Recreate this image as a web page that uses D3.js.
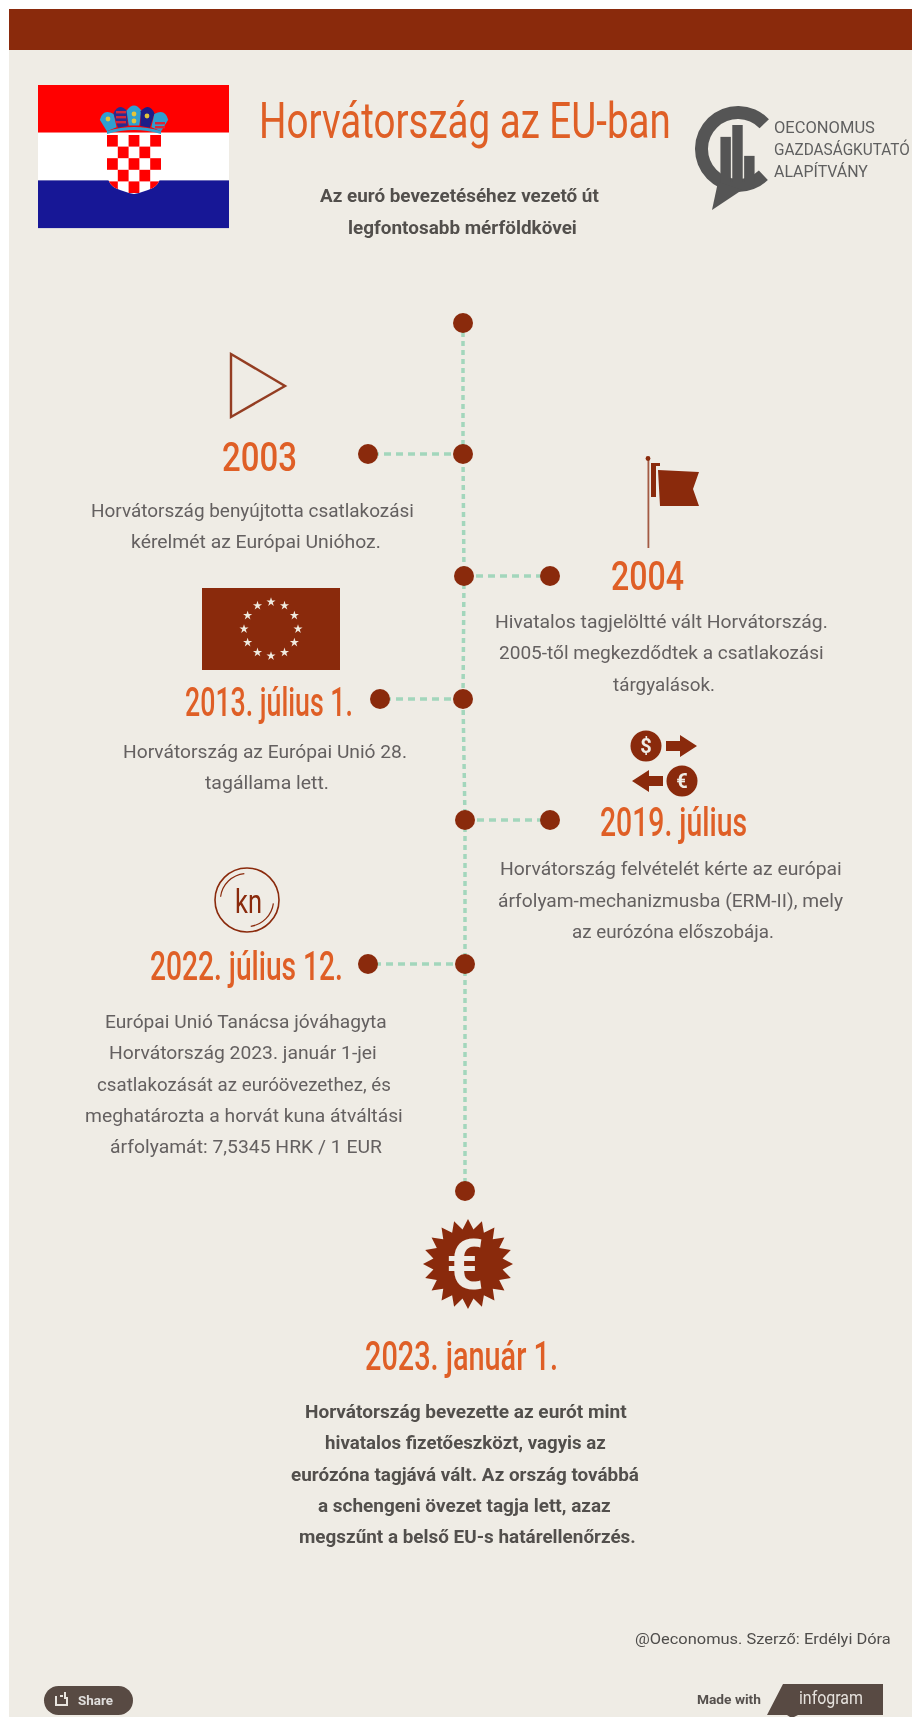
<!DOCTYPE html>
<html><head><meta charset="utf-8">
<script src="https://cdn.jsdelivr.net/npm/d3@7/dist/d3.min.js"></script>
<style>
html,body{margin:0;padding:0;background:#fff;overflow:hidden}
svg{display:block;filter:blur(.5px)}
</style></head><body><div id="c"></div>
<script>
// ---- content ----
const nodeIds = ["start","2003","2004","2013","2019","2022","end"];
const branchIds = ["2003","2004","2013","2019","2022"];
const headings = ["2003","2004","2013. július 1.","2019. július","2022. július 12.","2023. január 1."];
const bodyLines = [
 "Horvátország benyújtotta csatlakozási","kérelmét az Európai Unióhoz.",
 "Hivatalos tagjelöltté vált Horvátország.","2005-től megkezdődtek a csatlakozási","tárgyalások.",
 "Horvátország az Európai Unió 28.","tagállama lett.",
 "Horvátország felvételét kérte az európai","árfolyam-mechanizmusba (ERM-II), mely","az eurózóna előszobája.",
 "Európai Unió Tanácsa jóváhagyta","Horvátország 2023. január 1-jei","csatlakozását az euróövezethez, és","meghatározta a horvát kuna átváltási","árfolyamát: 7,5345 HRK / 1 EUR"];
const finalLines = ["Horvátország bevezette az eurót mint","hivatalos fizetőeszközt, vagyis az","eurózóna tagjává vált. Az ország továbbá","a schengeni övezet tagja lett, azaz","megszűnt a belső EU-s határellenőrzés."];
const subtitleLines = ["Az euró bevezetéséhez vezető út","legfontosabb mérföldkövei"];
const logoLines = ["OECONOMUS","GAZDASÁGKUTATÓ","ALAPÍTVÁNY"];
const logoBars = [38,48,22];
const title = "Horvátország az EU-ban";
const source = "@Oeconomus. Szerző: Erdélyi Dóra";

// ---- layout ----
const W=912,H=1717, BROWN="#8a2a0c", ORANGE="#df5f26", BG="#efece5", GREEN="#a3d6bc", GREY="#646060";
const nodeY = d3.scaleOrdinal().domain(nodeIds).range([323,454,576,699,820,964,1191]);
const nodeX = d3.scaleOrdinal().domain(nodeIds).range([463,463,464,463,465,465,465]);
const branchEnd = d3.scaleOrdinal().domain(branchIds).range([368,550,380,550,368]);
const headBox = [[222,297,471],[611,684,590],[185,353,716],[600,747,836],[150,343,980],[365,558,1370]];
const bodyBox = [[91,414,517],[131,381,548],[495,828,628],[499,824,659],[613,715,691],[123,407,758],[205,329,789],
 [500,842,875],[498,843,907],[572,774,938],[105,387,1028],[109,377,1059],[97,391,1091],[85,403,1122],[110,382,1153]];
const finalBox = [[305,627,1418],[325,606,1449],[291,639,1481],[318,611,1512],[299,636,1543]];
const subBox = [[320,599,202],[348,577,234]];

const svg = d3.select("#c").append("svg").attr("width",W).attr("height",H).attr("viewBox",[0,0,W,H]);
svg.append("rect").attr("width",W).attr("height",H).attr("fill","#fff");
svg.append("rect").attr("x",9).attr("y",9).attr("width",W-9).attr("height",H-9).attr("fill",BG);
svg.append("rect").attr("x",9).attr("y",9).attr("width",W-9).attr("height",41).attr("fill",BROWN);

// each text line is squeezed horizontally to the width it occupies in the reference
function texts(cls,data,boxes,opt){
  svg.append("g").attr("class",cls).selectAll("text").data(data).join("text")
   .attr("font-family",opt.font||"Roboto, sans-serif").attr("font-size",opt.size)
   .attr("font-weight",opt.weight||400).attr("fill",opt.fill).text(d=>d)
   .attr("transform",function(d,i){
     const b=boxes[i], sx=(b[1]-b[0])/this.getComputedTextLength();
     return `translate(${b[0]},${b[2]}) scale(${sx},1)`;
   });
}

// flag
const flag = svg.append("g");
flag.selectAll("rect").data(["#ff0000","#ffffff","#171796"]).join("rect")
 .attr("x",38).attr("width",191).attr("y",(d,i)=>85+i*47.7).attr("height",47.7).attr("fill",d=>d);
const shieldPath="M107 134H161V172Q161 186 148 190Q140 193 134 194Q128 193 120 190Q107 186 107 172Z";
const defs=svg.append("defs");
defs.append("clipPath").attr("id","sh").append("path").attr("d",shieldPath);
flag.append("path").attr("d",shieldPath).attr("fill","#fff");
const checks=[]; for(let r=0;r<6;r++)for(let c=0;c<5;c++) if((r+c)%2==0) checks.push([r,c]);
flag.append("g").attr("clip-path","url(#sh)").selectAll("rect").data(checks).join("rect")
 .attr("x",d=>107+d[1]*10.8).attr("y",d=>135+d[0]*11.6).attr("width",10.8).attr("height",11.6).attr("fill","#ff0000");
const crown=[[108,120,"#2f9fd0",7.5,10,-22],[121,116,"#2a2a8f",7,11,-10],[134,114.5,"#2f9fd0",7.5,11,0],[147,116,"#1d1d88",7,11,10],[160,120,"#2f9fd0",7.5,10,22]];
flag.selectAll("path.c").data(crown).join("path").attr("class","c")
 .attr("transform",d=>`translate(${d[0]},${d[1]}) rotate(${d[5]})`)
 .attr("d",d=>`M${-d[3]} ${-d[4]/3}Q0 ${-d[4]*1.3} ${d[3]} ${-d[4]/3}L${d[3]*.7} ${d[4]}L${-d[3]*.7} ${d[4]}Z`)
 .attr("fill",d=>d[2]);
flag.append("path").attr("d","M107 134Q134 126 161 134V131Q134 123 107 131Z").attr("fill","#2f9fd0");
flag.selectAll("rect.s").data([[116,111],[116,116],[116,121],[155,122],[155,126]]).join("rect").attr("class","s")
 .attr("x",d=>d[0]).attr("y",d=>d[1]).attr("width",10).attr("height",2.4).attr("fill","#d8263a");
flag.selectAll("circle").data([[134,114],[134,121],[147,116],[108,119]]).join("circle")
 .attr("cx",d=>d[0]).attr("cy",d=>d[1]).attr("r",2.4).attr("fill","#e3c53a");

// title
texts("title",[title],[[259,671,138]],{size:50,weight:400,fill:ORANGE});
texts("sub",subtitleLines,subBox,{size:19,weight:700,fill:"#524f4c"});

// logo
const logo=svg.append("g");
const arc=d3.arc().innerRadius(30).outerRadius(43);
const deg=Math.PI/180;
logo.append("path").attr("transform","translate(738,149)")
 .attr("d",arc({startAngle:136*deg,endAngle:406*deg})).attr("fill","#555");
logo.append("path").attr("d","M718 182L712 210L742 190Z").attr("fill","#555");
const bx=d3.scaleBand().domain(d3.range(logoBars.length)).range([719,756]).padding(.12);
const by=d3.scaleLinear().domain([0,48]).range([182,125]);
logo.selectAll("rect").data(logoBars).join("rect")
 .attr("x",(d,i)=>bx(i)).attr("width",bx.bandwidth()).attr("y",d=>by(d)).attr("height",d=>by(0)-by(d)).attr("fill","#555");
texts("logo",logoLines,[[774,875,133],[774,910,155],[774,868,177]],{size:16,weight:400,fill:"#5f5f5f"});

// timeline
const tl=svg.append("g");
const spine=d3.line().x(d=>nodeX(d)).y(d=>nodeY(d));
tl.append("path").attr("d",spine(nodeIds)).attr("fill","none").attr("stroke",GREEN).attr("stroke-width",3.5).attr("stroke-dasharray","5 4");
tl.selectAll("line").data(branchIds).join("line")
 .attr("x1",d=>nodeX(d)).attr("x2",d=>branchEnd(d)).attr("y1",d=>nodeY(d)).attr("y2",d=>nodeY(d))
 .attr("stroke",GREEN).attr("stroke-width",3.5).attr("stroke-dasharray","7 5");
tl.selectAll("circle.n").data(nodeIds).join("circle").attr("class","n")
 .attr("cx",d=>nodeX(d)).attr("cy",d=>nodeY(d)).attr("r",10).attr("fill",BROWN);
tl.selectAll("circle.b").data(branchIds).join("circle").attr("class","b")
 .attr("cx",d=>branchEnd(d)).attr("cy",d=>nodeY(d)).attr("r",10).attr("fill",BROWN);

texts("head",headings,headBox,{size:40,weight:500,fill:ORANGE});
texts("body",bodyLines,bodyBox,{size:18,weight:400,fill:GREY});
texts("final",finalLines,finalBox,{size:19,weight:700,fill:"#524f4c"});

// icons
svg.append("path").attr("d",d3.line()([[231,354],[285,386],[231,417]])+"Z").attr("fill","none").attr("stroke",BROWN).attr("stroke-width",2.4).attr("stroke-opacity",.9);

const eu=svg.append("g");
eu.append("rect").attr("x",202).attr("y",588).attr("width",138).attr("height",82).attr("fill",BROWN);
const starGen=d3.symbol().type(d3.symbolStar).size(26);
eu.selectAll("path").data(d3.range(12)).join("path").attr("d",starGen).attr("fill","#f0ebe0")
 .attr("transform",d=>{const a=d/12*2*Math.PI;return `translate(${271+27*Math.sin(a)},${629-27*Math.cos(a)})`});

const fl=svg.append("g").attr("fill",BROWN);
fl.append("rect").attr("x",647.5).attr("y",460).attr("width",1.8).attr("height",88).attr("fill-opacity",.75);
fl.append("circle").attr("cx",648).attr("cy",458.5).attr("r",2.4);
fl.append("path").attr("d","M651 463H660V466H656V497H651Z");
fl.append("path").attr("d","M658 470L699 472L693 489L699 506L660 506Z");

const money=svg.append("g").attr("fill",BROWN);
money.append("circle").attr("cx",646).attr("cy",746).attr("r",15.5);
money.append("circle").attr("cx",682).attr("cy",781).attr("r",15.5);
money.append("path").attr("d","M666 741H680V735L697 746L680 757V751H666Z");
money.append("path").attr("d","M663 776H649V770L632 781L649 792V786H663Z");
money.append("text").attr("x",646).attr("y",753).attr("text-anchor","middle").attr("font-family","Roboto").attr("font-weight",700).attr("font-size",20).attr("fill",BG).text("$");
money.append("text").attr("x",682).attr("y",788).attr("text-anchor","middle").attr("font-family","Roboto").attr("font-weight",700).attr("font-size",20).attr("fill",BG).text("€");

const kn=svg.append("g").attr("fill","none").attr("stroke",BROWN);
kn.append("circle").attr("cx",247).attr("cy",900).attr("r",32).attr("stroke-width",1.6);
const knArc=d3.arc().innerRadius(26).outerRadius(27.2);
kn.selectAll("path").data([[-1.45,-.1],[1.7,3.0]]).join("path").attr("transform","translate(247,900)")
 .attr("d",d=>knArc({startAngle:d[0],endAngle:d[1]})).attr("fill",BROWN).attr("stroke","none");
texts("kn",["kn"],[[235,262,913]],{size:33,weight:400,fill:BROWN});

const badgePts=d3.range(40).map(i=>[i/40*2*Math.PI, i%2==0?45:35]);
svg.append("path").attr("transform","translate(468,1264)").attr("d",d3.lineRadial().curve(d3.curveLinearClosed)(badgePts)).attr("fill",BROWN);
texts("euro",["€"],[[446,484,1289]],{size:70,weight:700,fill:BG});

// footer
texts("src",[source],[[635,891,1644]],{size:15,fill:"#4f4d4b"});
svg.append("rect").attr("x",44).attr("y",1686).attr("width",89).attr("height",29).attr("rx",14.5).attr("fill","#584a43");
svg.append("path").attr("d","M56 1696V1705H67V1697M60 1696H63M65 1692V1699").attr("fill","none").attr("stroke","#e8e4de").attr("stroke-width",2);
texts("share",["Share"],[[78,113,1705]],{size:13,weight:700,fill:"#e0dedc"});
texts("made",["Made with"],[[697,761,1704]],{size:13,weight:700,fill:"#55504d"});
svg.append("path").attr("d","M783 1684H883V1715H798L794 1717H790L787 1715H767Z").attr("fill","#584a43");
texts("ig",["infogram"],[[799,863,1704]],{size:19,weight:400,fill:"#e6e2dd"});
</script></body></html>
